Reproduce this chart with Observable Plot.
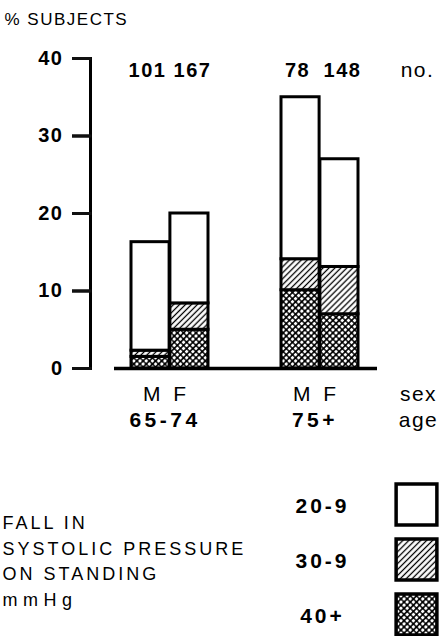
<!DOCTYPE html>
<html>
<head>
<meta charset="utf-8">
<script src="https://cdn.jsdelivr.net/npm/d3@7"></script>
<script src="https://cdn.jsdelivr.net/npm/@observablehq/plot@0.6"></script>
<style>
  html, body { margin: 0; padding: 0; background: #fff; }
  #chart { width: 443px; height: 636px; overflow: hidden; }
  #chart svg { display: block; }
</style>
</head>
<body>
<svg width="0" height="0" style="position:absolute">
  <defs>
    <pattern id="hatch" patternUnits="userSpaceOnUse" width="4.2" height="4.2" patternTransform="rotate(45)">
      <rect width="4.2" height="4.2" fill="#fff"/>
      <line x1="2.1" y1="-1" x2="2.1" y2="6" stroke="#000" stroke-width="1.3"/>
    </pattern>
    <pattern id="cross" patternUnits="userSpaceOnUse" width="4.4" height="4.4" patternTransform="rotate(45)">
      <rect width="4.4" height="4.4" fill="#000"/>
      <rect x="0.75" y="0.75" width="2.9" height="2.9" rx="0.9" fill="#fff"/>
    </pattern>
  </defs>
</svg>
<div id="chart"></div>
<script>
// ---- data ----
const ages = ["65-74", "75+"];
const sexes = ["M", "F"];
// order: 65-74 M, 65-74 F, 75+ M, 75+ F
const subjects = [101, 167, 78, 148];
const fall40 = [1.5, 5.0, 10.1, 7.0];    // fall 40+ mmHg
const fall30 = [0.8, 3.4, 4.0, 6.1];     // fall 30-9 mmHg
const fall20 = [14.0, 11.6, 20.9, 13.9]; // fall 20-9 mmHg
const bands = ["20-9", "30-9", "40+"];
const bandFills = ["#fff", "url(#hatch)", "url(#cross)"];
const yTicks = [0, 10, 20, 30, 40];
const legendTitle = ["FALL IN", "SYSTOLIC PRESSURE", "ON STANDING", "mmHg"];

// ---- tables built from the arrays ----
const bars = [];
const groups = [];
ages.forEach((age, ai) => sexes.forEach((sex, si) => {
  const i = ai * 2 + si;
  bars.push({age, sex, band: "40+", value: fall40[i]});
  bars.push({age, sex, band: "30-9", value: fall30[i]});
  bars.push({age, sex, band: "20-9", value: fall20[i]});
  groups.push({age, sex, n: subjects[i]});
}));
const isM = d => d.sex === "M";
const isF = d => d.sex === "F";

const font = "'Liberation Sans', Arial, Helvetica, sans-serif";
const color = {type: "ordinal", domain: bands, range: bandFills};
const half = 38.9;      // half of an age group's band: one bar per sex
const frameWidth = 310; // 443 - marginLeft - marginRight

const main = Plot.plot({
  width: 443,
  height: 440,
  marginLeft: 90,
  marginRight: 43,
  marginTop: 58,
  marginBottom: 72,
  style: {fontFamily: font, fontSize: "19px", color: "#000", background: "#fff", overflow: "visible", letterSpacing: "1.5px"},
  x: {type: "band", domain: ages, paddingInner: 0.4834, paddingOuter: 0.2715, axis: null, label: null},
  y: {domain: [0, 40], axis: null, label: null},
  color,
  marks: [
    Plot.barY(bars.filter(isM), {x: "age", y: "value", fill: "band", stroke: "#000", strokeWidth: 3, insetRight: half}),
    Plot.barY(bars.filter(isF), {x: "age", y: "value", fill: "band", stroke: "#000", strokeWidth: 3, insetLeft: half}),
    Plot.ruleY([0], {insetLeft: 24, insetRight: 23, strokeWidth: 3.5}),
    Plot.frame({anchor: "left", stroke: "#000", strokeWidth: 3}),
    // y-axis ticks, pointing left from the axis line
    Plot.ruleY(yTicks, {insetLeft: -18, insetRight: frameWidth - 1.5, stroke: "#111", strokeWidth: 3}),
    Plot.axisY(yTicks, {tickSize: 18, tickPadding: 9, stroke: "#111", strokeWidth: 3, fontWeight: "bold", fontSize: 20, label: null, tickFormat: d => String(d)}),
    // sample sizes
    Plot.text(groups.filter(isM), {x: "age", text: d => String(d.n), frameAnchor: "top", dy: 12, dx: -half / 2 - 3, lineAnchor: "middle", textAnchor: "middle", fontWeight: "bold", fontSize: 20}),
    Plot.text(groups.filter(isF), {x: "age", text: d => String(d.n), frameAnchor: "top", dy: 12, dx: half / 2 + 3, lineAnchor: "middle", textAnchor: "middle", fontWeight: "bold", fontSize: 20}),
    Plot.text(["no."], {frameAnchor: "top-right", dx: 17, dy: 12, textAnchor: "middle", lineAnchor: "middle", fontSize: 21}),
    // sex labels
    Plot.text(groups.filter(isM), {x: "age", text: "sex", frameAnchor: "bottom", dy: 26, dx: -half / 2 + 2, lineAnchor: "middle", textAnchor: "middle", fontSize: 21}),
    Plot.text(groups.filter(isF), {x: "age", text: "sex", frameAnchor: "bottom", dy: 26, dx: half / 2 - 9, lineAnchor: "middle", textAnchor: "middle", fontSize: 21}),
    Plot.text(["sex"], {frameAnchor: "bottom-right", dx: 18, dy: 26, textAnchor: "middle", lineAnchor: "middle", fontSize: 21}),
    // age labels
    Plot.text(ages, {x: d => d, text: d => d, frameAnchor: "bottom", dx: -5, dy: 52, lineAnchor: "middle", textAnchor: "middle", fontWeight: "bold", fontSize: 21}),
    Plot.text(["age"], {frameAnchor: "bottom-right", dx: 18, dy: 52, textAnchor: "middle", lineAnchor: "middle", fontSize: 21}),
    Plot.text(["% SUBJECTS"], {frameAnchor: "top-left", dx: -86, dy: -39, textAnchor: "start", lineAnchor: "middle", fontSize: 17})
  ]
});

const legend = Plot.plot({
  width: 443,
  height: 196,
  marginTop: 63,
  marginBottom: 21.5,
  marginLeft: 0,
  marginRight: 0,
  style: {fontFamily: font, fontSize: "18px", color: "#000", background: "#fff", overflow: "visible", letterSpacing: "3px"},
  x: {axis: null},
  y: {type: "point", domain: bands, padding: 0, axis: null},
  color,
  marks: [
    Plot.dot(bands, {y: d => d, fill: d => d, symbol: "square", r: 23, stroke: "#000", strokeWidth: 3.5, frameAnchor: "right", dx: -27}),
    Plot.text(bands, {y: d => d, text: d => d, frameAnchor: "right", dx: -121, dy: 2, textAnchor: "middle", lineAnchor: "middle", fontWeight: "bold", fontSize: 21}),
    Plot.text([legendTitle.join("\n")], {frameAnchor: "left", dx: 2, textAnchor: "start", lineAnchor: "middle", lineHeight: 1.42, fontSize: 18})
  ]
});

const chart = document.getElementById("chart");
chart.appendChild(main);
chart.appendChild(legend);

// typographic tweaks: the original face is an extended grotesque
d3.select(main).selectAll("text").filter(function () { return ages.includes(this.textContent); })
  .attr("letter-spacing", "3.5");
const titleMark = legend.querySelectorAll('g[aria-label="text"]')[1];
if (titleMark) {
  const spans = titleMark.querySelectorAll("tspan");
  if (spans.length === 4) spans[3].setAttribute("letter-spacing", "5.5");
}
</script>
</body>
</html>
